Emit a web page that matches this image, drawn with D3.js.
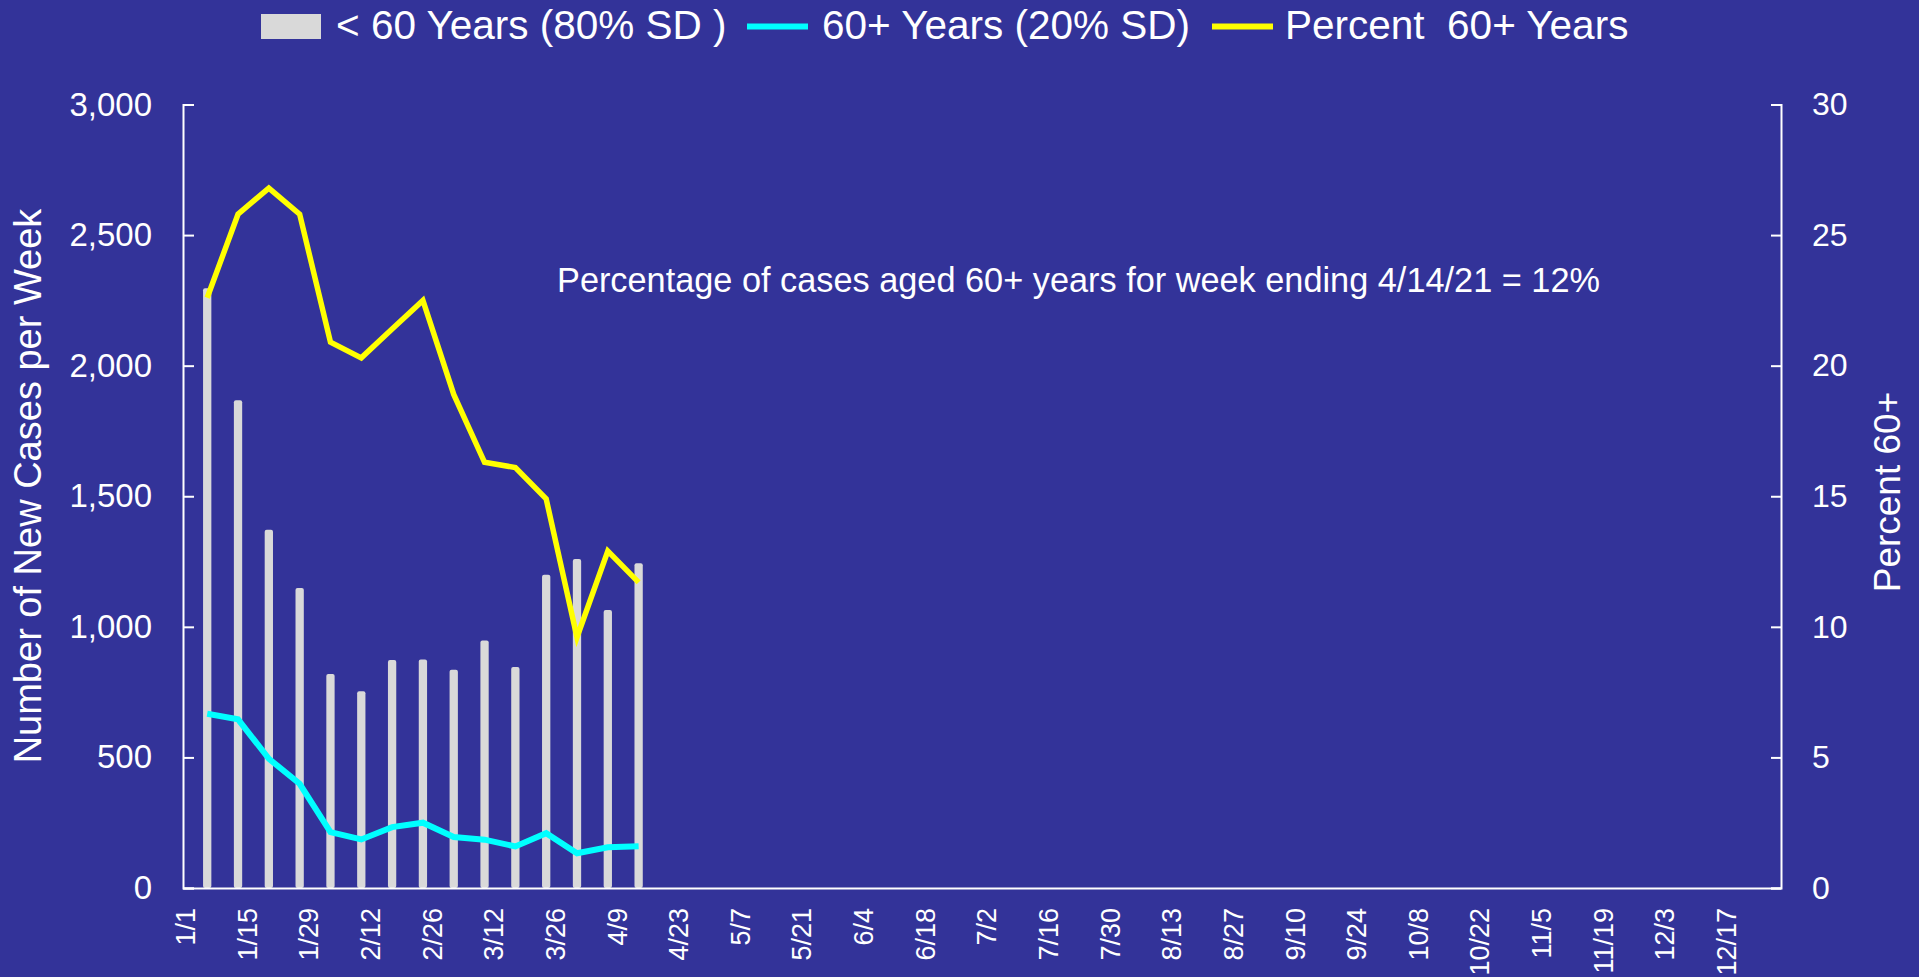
<!DOCTYPE html>
<html>
<head>
<meta charset="utf-8">
<script src="https://cdn.jsdelivr.net/npm/d3@7"></script>
<style>
  html, body { margin: 0; padding: 0; background: #333399; }
  svg { display: block; font-family: "Liberation Sans", Arial, sans-serif; }
  text { fill: #ffffff; }
</style>
</head>
<body>
<svg id="chart" width="1919" height="977"></svg>
<script>
// ---- data ----
const weekEnding = ["1/6/2021","1/13/2021","1/20/2021","1/27/2021","2/3/2021","2/10/2021","2/17/2021","2/24/2021",
                    "3/3/2021","3/10/2021","3/17/2021","3/24/2021","3/31/2021","4/7/2021","4/14/2021"];
const under60 = [2296,1868,1372,1149,819,753,873,875,836,948,846,1199,1260,1064,1243];
const over60  = [667,646,495,399,214,186,233,250,195,185,159,210,133,156,160];
const pct60   = [22.6,25.8,26.8,25.8,20.9,20.3,21.4,22.5,18.9,16.3,16.1,14.9,9.6,12.9,11.7];
const xTickLabels = ["1/1","1/15","1/29","2/12","2/26","3/12","3/26","4/9","4/23","5/7","5/21","6/4","6/18",
                     "7/2","7/16","7/30","8/13","8/27","9/10","9/24","10/8","10/22","11/5","11/19","12/3","12/17"];
const leftTicks = [0,500,1000,1500,2000,2500,3000];
const rightTicks = [0,5,10,15,20,25,30];
const legendLabels = ["< 60 Years (80% SD )","60+ Years (20% SD)","Percent  60+ Years"];
const annotation = "Percentage of cases aged 60+ years for week ending 4/14/21 = 12%";
const yTitle = "Number of New Cases per Week";
const y2Title = "Percent 60+";

// ---- layout ----
const L = 183, R = 1781, T = 104.5, B = 888;
const parse = s => { const [m,d,y] = s.split("/").map(Number); return new Date(y, m-1, d); };
const halfDay = 12*3600*1000;

const svg = d3.select("#chart");
svg.append("rect").attr("width",1919).attr("height",977).attr("fill","#333399");

const x = d3.scaleTime().domain([new Date(2021,0,1), new Date(2021,11,30)]).range([L, R]);
const y = d3.scaleLinear().domain([0,3000]).range([B, T]);
const y2 = d3.scaleLinear().domain([0,30]).range([B, T]);
const xc = d => x(new Date(d.getTime() + halfDay));

const dates = weekEnding.map(parse);
const rows = dates.map((d,i) => ({d, u:under60[i], o:over60[i], p:pct60[i]}));

// bars
const bw = 8.3;
svg.append("g").selectAll("rect").data(rows).join("rect")
  .attr("x", r => xc(r.d) - bw/2)
  .attr("y", r => y(r.u))
  .attr("width", bw)
  .attr("height", r => B - y(r.u))
  .attr("rx", 2)
  .attr("fill", "#D9D9D9");

// axes
const axisStyle = g => {
  g.selectAll("path, line").attr("stroke","#ffffff").attr("stroke-width",2);
};
svg.append("g").attr("transform",`translate(${L},0)`)
  .call(d3.axisLeft(y).tickValues(leftTicks).tickFormat(d3.format(",")).tickSizeInner(-11).tickSizeOuter(-11).tickPadding(31))
  .call(axisStyle)
  .call(g => g.selectAll("text").attr("font-size","33px").style("font-family","Liberation Sans, Arial, sans-serif").attr("fill","#fff"));

svg.append("g").attr("transform",`translate(${R},0)`)
  .call(d3.axisRight(y2).tickValues(rightTicks).tickSizeInner(-10).tickSizeOuter(-10).tickPadding(31))
  .call(axisStyle)
  .call(g => g.selectAll("text").attr("font-size","32px").style("font-family","Liberation Sans, Arial, sans-serif").attr("fill","#fff"));

const tickDates = xTickLabels.map(s => parse(s + "/2021"));
svg.append("g").attr("transform",`translate(0,${B})`)
  .call(d3.axisBottom(x).tickValues(tickDates.map(d => new Date(d.getTime()+halfDay)))
        .tickFormat((d,i) => xTickLabels[i]).tickSize(0).tickSizeOuter(0))
  .call(axisStyle)
  .call(g => g.selectAll(".tick text")
      .attr("font-size","27px").style("font-family","Liberation Sans, Arial, sans-serif").attr("fill","#fff")
      .attr("transform","rotate(-90)")
      .attr("text-anchor","end")
      .attr("x",-20).attr("y",0).attr("dy","0.35em"));

// lines
const lineO = d3.line().x(r => xc(r.d)).y(r => y(r.o));
const lineP = d3.line().x(r => xc(r.d)).y(r => y2(r.p));
svg.append("path").datum(rows).attr("d", lineO).attr("fill","none")
  .attr("stroke","#00FFFF").attr("stroke-width",6).attr("stroke-linejoin","miter");
svg.append("path").datum(rows).attr("d", lineP).attr("fill","none")
  .attr("stroke","#FFFF00").attr("stroke-width",5.5).attr("stroke-linejoin","miter");

// annotation
svg.append("text").attr("x",557).attr("y",291.5).attr("font-size","34.3px").text(annotation);

// axis titles
svg.append("text").attr("transform","translate(28,486) rotate(-90)")
  .attr("text-anchor","middle").attr("dy","0.35em").attr("font-size","38px").text(yTitle);
svg.append("text").attr("transform","translate(1887,492) rotate(-90)")
  .attr("text-anchor","middle").attr("dy","0.35em").attr("font-size","37px").text(y2Title);

// legend
const lg = svg.append("g");
lg.append("rect").attr("x",261).attr("y",14).attr("width",60).attr("height",25).attr("fill","#D9D9D9");
lg.append("text").attr("x",336).attr("y",39).attr("font-size","40.5px").style("white-space","pre").text(legendLabels[0]);
lg.append("line").attr("x1",747).attr("x2",808).attr("y1",26.5).attr("y2",26.5).attr("stroke","#00FFFF").attr("stroke-width",6);
lg.append("text").attr("x",822).attr("y",39).attr("font-size","40.5px").style("white-space","pre").text(legendLabels[1]);
lg.append("line").attr("x1",1212).attr("x2",1273).attr("y1",26.5).attr("y2",26.5).attr("stroke","#FFFF00").attr("stroke-width",6);
lg.append("text").attr("x",1285).attr("y",39).attr("font-size","40.5px").style("white-space","pre").text(legendLabels[2]);
</script>
</body>
</html>
